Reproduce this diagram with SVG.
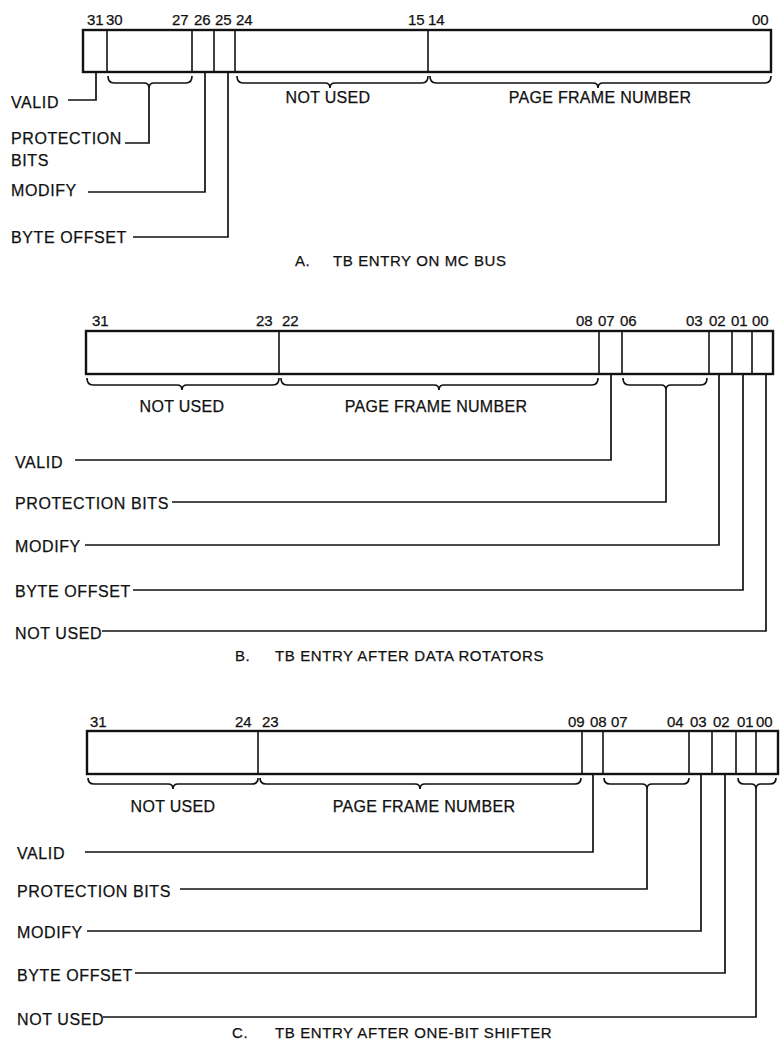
<svg xmlns="http://www.w3.org/2000/svg" width="783" height="1057" viewBox="0 0 783 1057">
<style>
text{font-family:"Liberation Sans",Arial,Helvetica,sans-serif;fill:#111;stroke:#111;stroke-width:0.25}
.lbl{font-size:16px;letter-spacing:0.6px}
.bit{font-size:15px}
.blab{font-size:16px;letter-spacing:0.3px;text-anchor:middle}
.cap{font-size:15px;letter-spacing:0.6px}
.box{fill:#fff;stroke:#111;stroke-width:2.4}
.dv{stroke:#111;stroke-width:1.6}
.conn{fill:none;stroke:#111;stroke-width:1.7}
.br{fill:none;stroke:#111;stroke-width:1.7}
</style>
<rect width="783" height="1057" fill="#fff"/>

<!-- ===== Section A ===== -->
<g id="entryA">
  <rect class="box" x="83" y="30" width="688" height="42"/>
  <line class="dv" x1="107" y1="30" x2="107" y2="72"/>
  <line class="dv" x1="192" y1="30" x2="192" y2="72"/>
  <line class="dv" x1="214" y1="30" x2="214" y2="72"/>
  <line class="dv" x1="235" y1="30" x2="235" y2="72"/>
  <line class="dv" x1="428" y1="30" x2="428" y2="72"/>
  <text class="bit" x="87" y="25">31</text>
  <text class="bit" x="106" y="25">30</text>
  <text class="bit" x="172" y="25">27</text>
  <text class="bit" x="194" y="25">26</text>
  <text class="bit" x="215" y="25">25</text>
  <text class="bit" x="236" y="25">24</text>
  <text class="bit" x="408" y="25">15</text>
  <text class="bit" x="428" y="25">14</text>
  <text class="bit" x="752" y="25">00</text>
</g>
<g id="bracesA">
  <path class="br" d="M108,76 Q108,83 114,83 L144,83 Q149,83 149,88 Q149,83 154,83 L186,83 Q192,83 192,76"/>
  <path class="br" d="M237,76 Q237,83 243,83 L325,83 Q330,83 330,88 Q330,83 335,83 L422,83 Q428,83 428,76"/>
  <path class="br" d="M430,76 Q430,83 436,83 L593,83 Q598,83 598,88 Q598,83 603,83 L765,83 Q771,83 771,76"/>
  <text class="blab" x="328" y="103">NOT USED</text>
  <text class="blab" x="600" y="103">PAGE FRAME NUMBER</text>
</g>
<g id="labelsA">
  <text class="lbl" x="11" y="108">VALID</text>
  <text class="lbl" x="11" y="144">PROTECTION</text>
  <text class="lbl" x="11" y="166">BITS</text>
  <text class="lbl" x="11" y="196">MODIFY</text>
  <text class="lbl" x="11" y="243">BYTE OFFSET</text>
</g>
<g id="connectorsA">
  <path class="conn" d="M96,72 L96,100 L68,100"/>
  <path class="conn" d="M149,88 L149,143 L125,143"/>
  <path class="conn" d="M205,72 L205,192 L88,192"/>
  <path class="conn" d="M228,72 L228,237 L133,237"/>
</g>
<text class="cap" x="295" y="266">A.<tspan x="333">TB ENTRY ON MC BUS</tspan></text>

<!-- ===== Section B ===== -->
<g id="entryB">
  <rect class="box" x="86" y="331" width="687" height="43"/>
  <line class="dv" x1="279" y1="331" x2="279" y2="374"/>
  <line class="dv" x1="599" y1="331" x2="599" y2="374"/>
  <line class="dv" x1="622" y1="331" x2="622" y2="374"/>
  <line class="dv" x1="709" y1="331" x2="709" y2="374"/>
  <line class="dv" x1="732" y1="331" x2="732" y2="374"/>
  <line class="dv" x1="752" y1="331" x2="752" y2="374"/>
  <text class="bit" x="92" y="326">31</text>
  <text class="bit" x="256" y="326">23</text>
  <text class="bit" x="282" y="326">22</text>
  <text class="bit" x="576" y="326">08</text>
  <text class="bit" x="598" y="326">07</text>
  <text class="bit" x="620" y="326">06</text>
  <text class="bit" x="686" y="326">03</text>
  <text class="bit" x="709" y="326">02</text>
  <text class="bit" x="731" y="326">01</text>
  <text class="bit" x="752" y="326">00</text>
</g>
<g id="bracesB">
  <path class="br" d="M87,378 Q87,385 93,385 L177,385 Q182,385 182,390 Q182,385 187,385 L273,385 Q279,385 279,378"/>
  <path class="br" d="M281,378 Q281,385 287,385 L434,385 Q439,385 439,390 Q439,385 444,385 L592,385 Q598,385 598,378"/>
  <path class="br" d="M623,378 Q623,385 629,385 L661,385 Q666,385 666,390 Q666,385 671,385 L701,385 Q707,385 707,378"/>
  <text class="blab" x="182" y="412">NOT USED</text>
  <text class="blab" x="436" y="412">PAGE FRAME NUMBER</text>
</g>
<g id="labelsB">
  <text class="lbl" x="15" y="468">VALID</text>
  <text class="lbl" x="15" y="509">PROTECTION BITS</text>
  <text class="lbl" x="15" y="552">MODIFY</text>
  <text class="lbl" x="15" y="597">BYTE OFFSET</text>
  <text class="lbl" x="15" y="639">NOT USED</text>
</g>
<g id="connectorsB">
  <path class="conn" d="M611,374 L611,460 L75,460"/>
  <path class="conn" d="M666,390 L666,502 L172,502"/>
  <path class="conn" d="M719,374 L719,545 L85,545"/>
  <path class="conn" d="M743,374 L743,590 L133,590"/>
  <path class="conn" d="M766,374 L766,631 L102,631"/>
</g>
<text class="cap" x="235" y="661">B.<tspan x="275">TB ENTRY AFTER DATA ROTATORS</tspan></text>

<!-- ===== Section C ===== -->
<g id="entryC">
  <rect class="box" x="87" y="731" width="691" height="43"/>
  <line class="dv" x1="258" y1="731" x2="258" y2="774"/>
  <line class="dv" x1="582" y1="731" x2="582" y2="774"/>
  <line class="dv" x1="603" y1="731" x2="603" y2="774"/>
  <line class="dv" x1="689" y1="731" x2="689" y2="774"/>
  <line class="dv" x1="712" y1="731" x2="712" y2="774"/>
  <line class="dv" x1="736" y1="731" x2="736" y2="774"/>
  <line class="dv" x1="756" y1="731" x2="756" y2="774"/>
  <text class="bit" x="90" y="727">31</text>
  <text class="bit" x="235" y="727">24</text>
  <text class="bit" x="262" y="727">23</text>
  <text class="bit" x="568" y="727">09</text>
  <text class="bit" x="590" y="727">08</text>
  <text class="bit" x="611" y="727">07</text>
  <text class="bit" x="667" y="727">04</text>
  <text class="bit" x="690" y="727">03</text>
  <text class="bit" x="713" y="727">02</text>
  <text class="bit" x="737" y="727">01</text>
  <text class="bit" x="756" y="727">00</text>
</g>
<g id="bracesC">
  <path class="br" d="M88,778 Q88,784 94,784 L168,784 Q173,784 173,789 Q173,784 178,784 L252,784 Q258,784 258,778"/>
  <path class="br" d="M260,778 Q260,784 266,784 L415,784 Q420,784 420,789 Q420,784 425,784 L575,784 Q581,784 581,778"/>
  <path class="br" d="M604,778 Q604,784 610,784 L642,784 Q647,784 647,789 Q647,784 652,784 L683,784 Q689,784 689,778"/>
  <path class="br" d="M738,778 Q738,784 744,784 L751,784 Q756,784 756,789 Q756,784 761,784 L770,784 Q776,784 776,778"/>
  <text class="blab" x="173" y="812">NOT USED</text>
  <text class="blab" x="424" y="812">PAGE FRAME NUMBER</text>
</g>
<g id="labelsC">
  <text class="lbl" x="17" y="859">VALID</text>
  <text class="lbl" x="17" y="897">PROTECTION BITS</text>
  <text class="lbl" x="17" y="938">MODIFY</text>
  <text class="lbl" x="17" y="981">BYTE OFFSET</text>
  <text class="lbl" x="17" y="1025">NOT USED</text>
</g>
<g id="connectorsC">
  <path class="conn" d="M593,774 L593,852 L85,852"/>
  <path class="conn" d="M647,789 L647,889 L180,889"/>
  <path class="conn" d="M701,774 L701,931 L87,931"/>
  <path class="conn" d="M725,774 L725,973 L135,973"/>
  <path class="conn" d="M756,789 L756,1017 L103,1017"/>
</g>
<text class="cap" x="232" y="1038">C.<tspan x="275">TB ENTRY AFTER ONE-BIT SHIFTER</tspan></text>
</svg>
